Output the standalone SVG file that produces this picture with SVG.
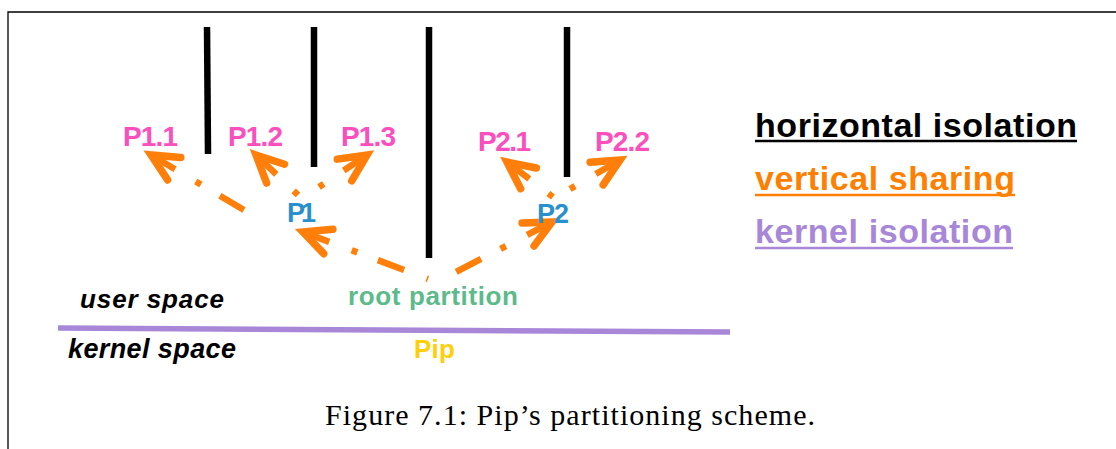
<svg xmlns="http://www.w3.org/2000/svg" width="1116" height="449" viewBox="0 0 1116 449">
<defs>
<style>
.lbl{font-family:"Liberation Sans",Arial,sans-serif;font-weight:bold}
.pk{fill:#fb4fbe;font-size:28px}
.bl{fill:#2a90cc;font-size:27px}
.it{font-style:italic;fill:#000}
.lg{font-size:34px}
.bar{stroke:#000;stroke-width:6.5}
.arr{fill:none;stroke:#ff7f0a;stroke-width:6.5;stroke-dasharray:28 24 6 22;marker-start:url(#chev)}
.ul{stroke-width:2.5}
</style>
<marker id="chev" markerUnits="userSpaceOnUse" orient="auto-start-reverse" viewBox="-40 -25 50 50" refX="0" refY="0" markerWidth="50" markerHeight="50" overflow="visible">
<path d="M-27,-13 L0,0 L-27,13" fill="none" stroke="#ff7f0a" stroke-width="7.5" stroke-linecap="round" stroke-linejoin="miter"/>
</marker>
</defs>
<rect width="1116" height="449" fill="#fff"/>
<path d="M8,449 L8,12 L1116,12" fill="none" stroke="#000" stroke-width="1.3"/>
<g id="bars">
<line class="bar" x1="207" y1="27" x2="208" y2="154"/>
<line class="bar" x1="314" y1="27" x2="314" y2="167"/>
<line class="bar" x1="429" y1="27" x2="429" y2="258"/>
<line class="bar" x1="567" y1="27" x2="567" y2="177"/>
</g>
<g id="connectors">
<path class="arr" d="M151,155 L244,210"/>
<path class="arr" d="M256,155 L298,195"/>
<path class="arr" d="M367,155 L319,187"/>
<path class="arr" d="M303,232 L428,279"/>
<path class="arr" d="M552,222 L456,272"/>
<path class="arr" d="M507,162 L553,197"/>
<path class="arr" d="M620,160 L570,189"/>
</g>
<g id="p11"><text class="lbl pk" x="123" y="146" textLength="55">P1.1</text></g>
<g id="p12"><text class="lbl pk" x="228" y="146" textLength="55">P1.2</text></g>
<g id="p13"><text class="lbl pk" x="341" y="146" textLength="55">P1.3</text></g>
<g id="p21"><text class="lbl pk" x="478" y="151" textLength="53">P2.1</text></g>
<g id="p22"><text class="lbl pk" x="595" y="151" textLength="55">P2.2</text></g>
<g id="p1"><text class="lbl bl" x="287" y="222" textLength="29">P1</text></g>
<g id="p2"><text class="lbl bl" x="537" y="223" textLength="32">P2</text></g>
<g id="root"><text class="lbl" x="348" y="305" font-size="26" fill="#5cba8b" textLength="170">root partition</text></g>
<g id="pip"><text class="lbl" x="414" y="358" font-size="26" fill="#ffcf0a" textLength="41">Pip</text></g>
<g id="spaces">
<line x1="58" y1="328" x2="730" y2="332" stroke="#a886d8" stroke-width="5.5"/>
<text class="lbl it" x="80" y="308" font-size="26" textLength="144">user space</text>
<text class="lbl it" x="68" y="358" font-size="27" textLength="168">kernel space</text>
</g>
<g id="legend">
<text class="lbl lg" x="755" y="137" fill="#000" textLength="322">horizontal isolation</text>
<line class="ul" x1="755" y1="141" x2="1077" y2="141" stroke="#000"/>
<text class="lbl lg" x="755" y="190" fill="#ff7f00" textLength="260">vertical sharing</text>
<line class="ul" x1="755" y1="195" x2="1015" y2="195" stroke="#ff7f00"/>
<text class="lbl lg" x="755" y="243" fill="#a886d8" textLength="258">kernel isolation</text>
<line class="ul" x1="755" y1="248" x2="1013" y2="248" stroke="#a886d8"/>
</g>
<g id="caption"><text x="325" y="425" font-family="Liberation Serif, Times New Roman, serif" font-size="30" fill="#000" textLength="490">Figure 7.1: Pip’s partitioning scheme.</text></g>
</svg>
